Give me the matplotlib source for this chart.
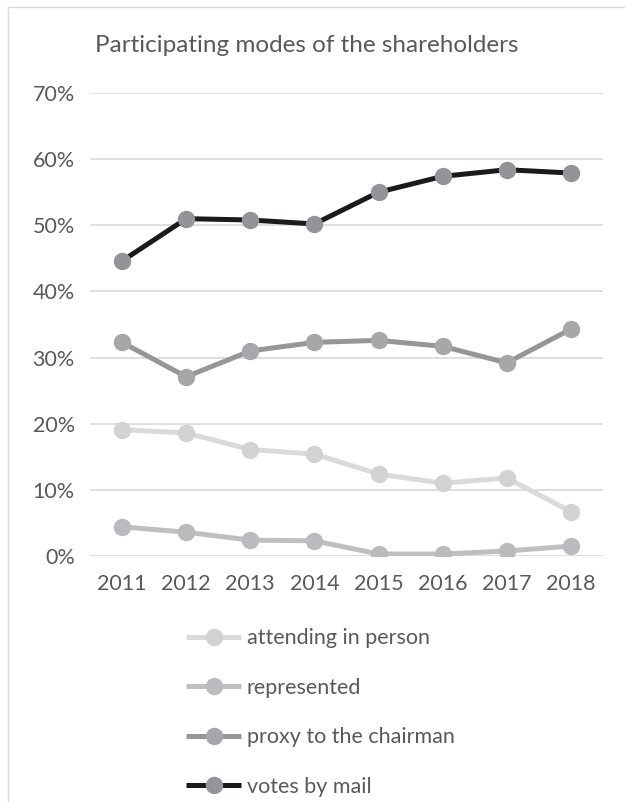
import matplotlib
matplotlib.use("Agg")
import matplotlib.pyplot as plt
from matplotlib.lines import Line2D
from matplotlib.ticker import PercentFormatter

# data (percent)
years = ["2011", "2012", "2013", "2014", "2015", "2016", "2017", "2018"]
attending = [19.1, 18.6, 16.1, 15.4, 12.4, 11.0, 11.8, 6.7]
represented = [4.4, 3.6, 2.4, 2.3, 0.3, 0.3, 0.75, 1.5]
proxy = [32.3, 27.1, 31.0, 32.3, 32.6, 31.7, 29.2, 34.3]
mail = [44.6, 51.0, 50.8, 50.2, 55.0, 57.4, 58.4, 57.9]

series_names = ["attending in person", "represented", "proxy to the chairman", "votes by mail"]
line_colors = ["#dadada", "#bfbfc1", "#969698", "#1c1a1a"]
marker_colors = ["#d2d2d3", "#bbbbbd", "#a7a7a9", "#939497"]

txt = "#595959"
plt.rcParams['font.family'] = ['Lato', 'DejaVu Sans']

fig = plt.figure(figsize=(6.25, 8.02), dpi=100)
W, H = 625, 802
ax = fig.add_axes([90 / W, 1 - 556 / H, (603 - 90) / W, (556 - 93) / H])

x = list(range(len(years)))
for vals, name, lc, mc in zip([attending, represented, proxy, mail], series_names, line_colors, marker_colors):
    ax.plot(x, vals, color=lc, lw=3.6, marker="o", ms=11.5, mfc=mc, mec=mc,
            label=name, solid_joinstyle="round", solid_capstyle="butt")

ax.set_xlim(-0.5, len(years) - 0.5)
ax.set_ylim(0, 70)
ax.set_yticks(range(0, 71, 10))
ax.yaxis.set_major_formatter(PercentFormatter(decimals=0))
ax.set_xticks(x)
ax.set_xticklabels(years)
ax.tick_params(length=0, labelsize=15.5, colors=txt)
ax.tick_params(axis="y", pad=11)
ax.tick_params(axis="x", pad=13)
ax.grid(axis="y", color="#d9d9d9", lw=1.2)
ax.set_axisbelow(True)
for s in ax.spines.values():
    s.set_visible(False)

fig.text(307 / W, 1 - 45 / H, "Participating modes of the shareholders", ha="center", va="center",
         fontsize=17.5, color=txt)

leg = fig.legend(loc="upper left", bbox_to_anchor=(171 / W, 1 - 613 / H), frameon=False,
                 fontsize=15.5, handlelength=2.55, handletextpad=0.28, labelspacing=1.37,
                 labelcolor=txt, borderpad=0.2)

# chart border (left and top visible)
fig.add_artist(Line2D([8 / W, 8 / W], [0, 1 - 7 / H], color="#d9d9d9", lw=1))
fig.add_artist(Line2D([8 / W, 1], [1 - 7 / H, 1 - 7 / H], color="#d9d9d9", lw=1))

fig.savefig("out.png", dpi=100, facecolor="white")
